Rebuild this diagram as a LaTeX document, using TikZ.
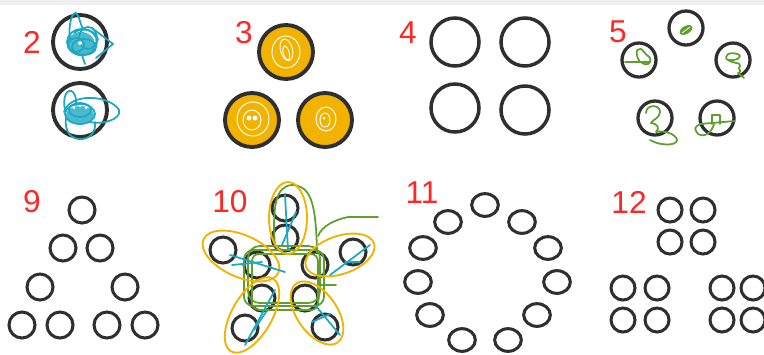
\documentclass[tikz,border=0pt]{standalone}
\usepackage{fontspec}
\newfontfamily\numfont{Liberation Sans}
\usetikzlibrary{shapes.geometric}
\definecolor{ringcol}{HTML}{2F2F2F}
\definecolor{numred}{HTML}{FF2626}
\definecolor{scribteal}{HTML}{1CA8C2}
\definecolor{scribgold}{HTML}{F2B300}
\definecolor{scribgreen}{HTML}{5E9F2E}
\definecolor{topband}{HTML}{EFEFEF}
\begin{document}
\begin{tikzpicture}[x=0.03cm, y=-0.03cm,
  num/.style={text=numred, font=\numfont\fontsize{27}{30}\selectfont, inner sep=0pt},
  ringL/.style={circle, draw=ringcol, line width=3.3pt, minimum size=1.62cm, inner sep=0pt},
  ringM/.style={circle, draw=ringcol, line width=3pt, minimum size=1.44cm, inner sep=0pt},
  ringS/.style={circle, draw=ringcol, line width=2.8pt, minimum size=1.02cm, inner sep=0pt},
  ringT/.style={circle, draw=ringcol, line width=2.6pt, minimum size=0.78cm, inner sep=0pt},
  ringQ/.style={circle, draw=ringcol, line width=2.6pt, minimum size=0.72cm, inner sep=0pt},
  ringO/.style={ellipse, draw=ringcol, line width=2.6pt, minimum width=0.8cm, minimum height=0.68cm, inner sep=0pt},
  tealpen/.style={draw=scribteal, line width=1.5pt, line cap=round, line join=round},
  goldpen/.style={draw=scribgold, line width=1.6pt, line cap=round},
  greenpen/.style={draw=scribgreen, line width=1.5pt, line cap=round, line join=round},
  swirl/.style={draw=white, line width=0.8pt}]
\useasboundingbox (0,0) rectangle (764,354);
\fill[topband] (0,0) rectangle (764,5);

% 2
\node[num] (n2) at (32,42) {2};
\node[ringL] (p2a) at (80,42) {};
\node[ringL] (p2b) at (80,110) {};
\fill[scribteal, opacity=.8] (81,44) ellipse (14 and 12);
\draw[tealpen] (82,42) ellipse (15 and 13);
\draw[tealpen] (88,38) ellipse (9 and 11);
\draw[tealpen] (76,45) ellipse (8 and 7);
\draw[tealpen] (84,47) ellipse (12 and 8);
\draw[tealpen] (74,33) .. controls (82,26) and (96,30) .. (98,40);
\draw[tealpen] (70,40) .. controls (68,25) and (72,12) .. (76,13) .. controls (80,16) and (80,26) .. (84,30);
\draw[tealpen] (92,28) -- (113,44) -- (96,58);
\draw[tealpen] (82,55) -- (85,64);
\fill[white] (80,43) circle (2);
\fill[scribteal, opacity=.8] (80,115) ellipse (14 and 9);
\draw[tealpen] (80,114) ellipse (15 and 10);
\draw[tealpen] (80,110) ellipse (11 and 7);
\draw[tealpen] (64,112) .. controls (70,92) and (110,95) .. (119,110) .. controls (122,120) and (100,125) .. (90,122);
\draw[tealpen] (65,110) .. controls (62,95) and (68,88) .. (73,92) .. controls (76,97) .. (76,105);
\draw[tealpen] (66,118) .. controls (64,132) and (72,140) .. (82,139) .. controls (92,138) and (96,130) .. (95,122);
\fill[white] (74,108) circle (1.3);
\fill[white] (80,106) circle (1.3);
\fill[white] (86,108) circle (1.3);

% 3
\node[num] (n3) at (244,33) {3};
\node[ringL, fill=scribgold] (p3a) at (286,52) {};
\node[ringL, fill=scribgold] (p3b) at (252,120) {};
\node[ringL, fill=scribgold] (p3c) at (325,120) {};
\draw[swirl, rotate around={15:(286,52)}] (286,53) ellipse (3 and 7);
\draw[swirl, rotate around={15:(286,52)}] (287,50) ellipse (6 and 11);
\draw[swirl] (286,52) ellipse (14 and 16);
\fill[white] (249,118) circle (2.5);
\fill[white] (255,118) circle (2.5);
\draw[swirl] (252,120) ellipse (9 and 10);
\draw[swirl] (253,119) ellipse (16 and 17);
\draw[swirl] (325,120) ellipse (5 and 7);
\draw[swirl] (326,119) ellipse (10 and 12);
\fill[white] (324,118) circle (1.5);

% 4
\node[num] (n4) at (408,33) {4};
\node[ringM] (p4a) at (455,42) {};
\node[ringM] (p4b) at (525,42) {};
\node[ringM] (p4c) at (455,108) {};
\node[ringM] (p4d) at (525,110) {};

% 5
\node[num] (n5) at (618,32) {5};
\node[ringS] (p5a) at (686,28) {};
\node[ringS] (p5b) at (639,60) {};
\node[ringS] (p5c) at (733,60) {};
\node[ringS] (p5d) at (655,118) {};
\node[ringS] (p5e) at (717,118) {};
\fill[scribgreen, rotate around={30:(686,30)}] (686,30) ellipse (7 and 4);
\draw[white, line width=0.7pt] (682,33) -- (690,27);
\draw[greenpen] (625,62) -- (650,62);
\draw[greenpen] (640,62) .. controls (632,50) and (640,45) .. (644,52) .. controls (647,57) and (652,56) .. (650,62) .. controls (648,66) and (643,64) .. (641,62);
\draw[greenpen] (726,57) .. controls (726,52) and (738,52) .. (740,56) .. controls (740,60) and (728,62) .. (726,58) .. controls (730,64) and (742,62) .. (740,66) .. controls (736,70) and (744,70) .. (738,73) -- (744,78);
\draw[greenpen] (646,113) .. controls (646,104) and (660,104) .. (660,112) .. controls (660,118) and (652,120) .. (651,123) .. controls (658,124) and (660,128) .. (656,132) .. controls (664,130) and (676,134) .. (677,140) .. controls (677,146) and (660,146) .. (650,140);
\draw[greenpen] (700,124) -- (735,121);
\draw[greenpen] (712,124) -- (712,115) -- (720,115) -- (720,124);
\draw[greenpen] (714,124) .. controls (712,132) and (705,138) .. (698,134) .. controls (694,128) .. (700,124);

% 9
\node[num] (n9) at (32,202) {9};
\node[ringT] (p9a) at (82,210) {};
\node[ringT] (p9b) at (63,248) {};
\node[ringT] (p9c) at (100,248) {};
\node[ringT] (p9d) at (40,287) {};
\node[ringT] (p9e) at (125,287) {};
\node[ringT] (p9f) at (22,325) {};
\node[ringT] (p9g) at (60,325) {};
\node[ringT] (p9h) at (107,325) {};
\node[ringT] (p9i) at (145,325) {};

% 10
\node[num] (n10) at (230,202) {10};
\node[ringT] (p10a) at (285,208) {};
\node[ringT] (p10b) at (285,238) {};
\node[ringT] (p10c) at (223,250) {};
\node[ringT] (p10d) at (257,265) {};
\node[ringT] (p10e) at (353,252) {};
\node[ringT] (p10f) at (315,265) {};
\node[ringT] (p10g) at (245,328) {};
\node[ringT] (p10h) at (262,298) {};
\node[ringT] (p10i) at (325,327) {};
\node[ringT] (p10j) at (305,298) {};
\draw[greenpen, rounded corners=8] (244,250) rectangle (324,306);
\draw[greenpen, rounded corners=10] (248,246) rectangle (320,303);
\draw[greenpen, rounded corners=6] (252,254) rectangle (318,310);
\draw[greenpen] (275,247) .. controls (272,205) and (276,186) .. (292,185) .. controls (310,186) and (316,200) .. (317,253);
\draw[greenpen] (318,236) .. controls (322,226) and (334,220) .. (348,217) -- (378,217);
\draw[greenpen] (320,285) -- (336,285);
\draw[goldpen] (288,218) ellipse (19 and 36);
\draw[goldpen, rotate around={-24:(241,256)}] (241,256) ellipse (41 and 21);
\draw[goldpen, rotate around={19:(340,255)}] (340,255) ellipse (36 and 19);
\draw[goldpen, rotate around={60:(252,315)}] (252,315) ellipse (42 and 20);
\draw[goldpen, rotate around={-55:(317,313)}] (317,313) ellipse (36 and 20);
\draw[tealpen] (285,195) -- (288,250);
\draw[tealpen] (282,245) -- (296,212);
\draw[tealpen] (230,255) -- (285,272);
\draw[tealpen] (232,265) -- (262,262);
\draw[tealpen] (330,275) -- (370,245);
\draw[tealpen] (345,262) -- (360,262);
\draw[tealpen] (245,345) -- (275,290);
\draw[tealpen] (254,330) -- (266,312);
\draw[tealpen] (315,305) -- (340,335);
\draw[tealpen] (312,322) -- (330,314);

% 11
\node[num] (n11) at (422,193) {11};
\node[ringO] (p11a) at (485,205) {};
\node[ringO] (p11b) at (448,222) {};
\node[ringO] (p11c) at (522,222) {};
\node[ringO] (p11d) at (423,248) {};
\node[ringO] (p11e) at (548,248) {};
\node[ringO] (p11f) at (418,282) {};
\node[ringO] (p11g) at (557,282) {};
\node[ringO] (p11h) at (430,315) {};
\node[ringO] (p11i) at (537,315) {};
\node[ringO] (p11j) at (462,340) {};
\node[ringO] (p11k) at (508,340) {};

% 12
\node[num] (n12) at (629,202) {12};
\node[ringQ] (p12a) at (670,210) {};
\node[ringQ] (p12b) at (703,210) {};
\node[ringQ] (p12c) at (670,242) {};
\node[ringQ] (p12d) at (703,242) {};
\node[ringQ] (p12e) at (623,288) {};
\node[ringQ] (p12f) at (657,288) {};
\node[ringQ] (p12g) at (623,320) {};
\node[ringQ] (p12h) at (657,320) {};
\node[ringQ] (p12i) at (722,288) {};
\node[ringQ] (p12j) at (753,288) {};
\node[ringQ] (p12k) at (722,320) {};
\node[ringQ] (p12l) at (753,320) {};
\end{tikzpicture}
\end{document}
